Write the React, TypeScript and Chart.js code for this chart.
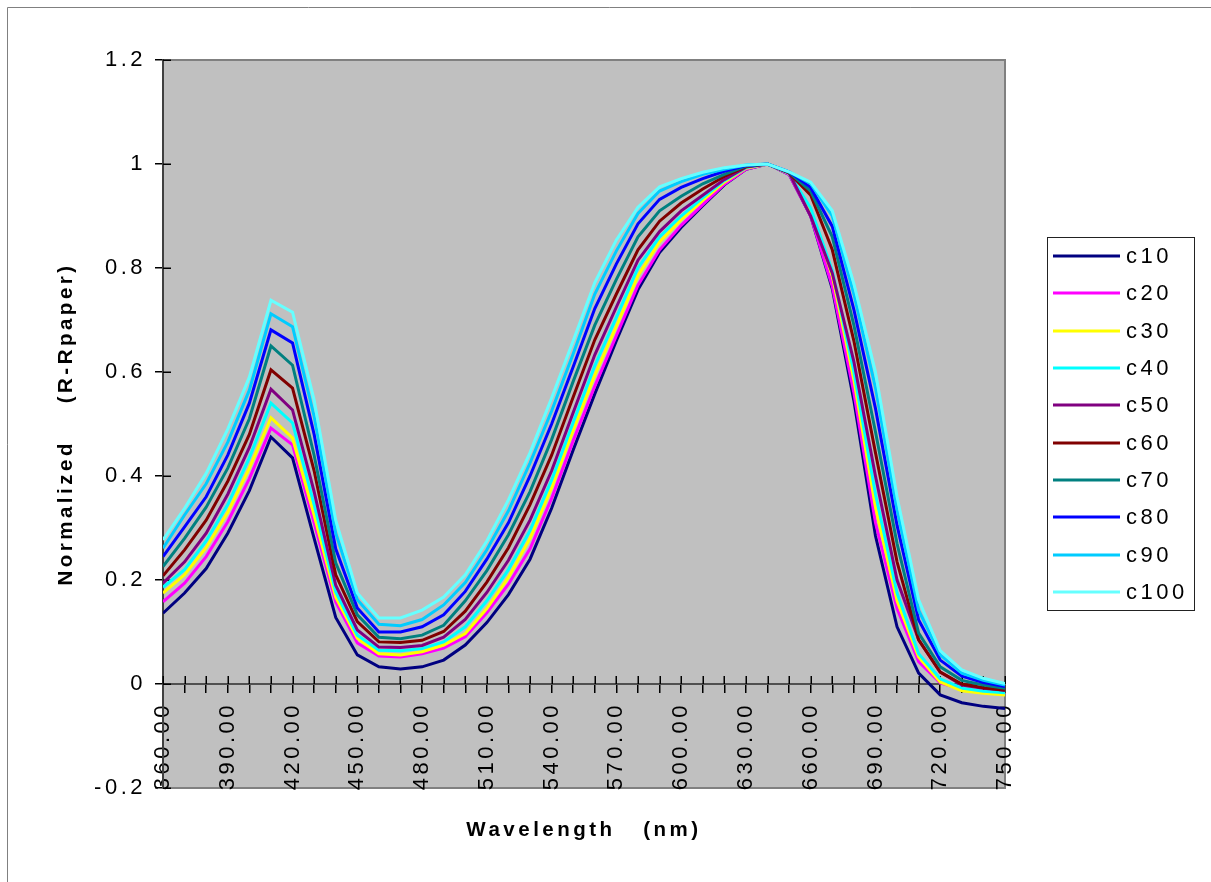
import React, { useEffect, useRef } from 'react';
import { Chart, registerables } from 'chart.js';

Chart.register(...registerables);

const wavelengths = [360, 370, 380, 390, 400, 410, 420, 430, 440, 450, 460, 470, 480, 490, 500, 510, 520, 530, 540, 550, 560, 570, 580, 590, 600, 610, 620, 630, 640, 650, 660, 670, 680, 690, 700, 710, 720, 730, 740, 750];
const xLabelValues = [360, 390, 420, 450, 480, 510, 540, 570, 600, 630, 660, 690, 720, 750];

const seriesNames = ['c10', 'c20', 'c30', 'c40', 'c50', 'c60', 'c70', 'c80', 'c90', 'c100'];
const seriesColors = ['#000080', '#FF00FF', '#FFFF00', '#00FFFF', '#800080', '#800000', '#008080', '#0000FF', '#00CCFF', '#66FFFF'];

const c10 = [0.136, 0.175, 0.222, 0.29, 0.372, 0.475, 0.435, 0.28, 0.128, 0.056, 0.033, 0.029, 0.033, 0.046, 0.075, 0.118, 0.172, 0.24, 0.338, 0.45, 0.558, 0.66, 0.758, 0.83, 0.878, 0.92, 0.96, 0.99, 1.0, 0.98, 0.9, 0.76, 0.545, 0.285, 0.11, 0.021, -0.021, -0.036, -0.043, -0.047];
const c20 = [0.158, 0.194, 0.245, 0.312, 0.395, 0.492, 0.46, 0.31, 0.158, 0.079, 0.054, 0.052, 0.058, 0.069, 0.091, 0.137, 0.192, 0.26, 0.357, 0.468, 0.573, 0.67, 0.767, 0.835, 0.882, 0.922, 0.961, 0.99, 1.0, 0.98, 0.9, 0.765, 0.56, 0.31, 0.145, 0.043, 0.002, -0.01, -0.015, -0.018];
const c30 = [0.175, 0.21, 0.262, 0.33, 0.415, 0.512, 0.473, 0.325, 0.167, 0.088, 0.058, 0.056, 0.062, 0.075, 0.097, 0.145, 0.205, 0.28, 0.377, 0.488, 0.594, 0.688, 0.785, 0.85, 0.893, 0.93, 0.965, 0.992, 1.0, 0.982, 0.91, 0.785, 0.585, 0.34, 0.16, 0.052, 0.004, -0.013, -0.018, -0.021];
const c40 = [0.186, 0.22, 0.275, 0.345, 0.435, 0.54, 0.502, 0.345, 0.177, 0.094, 0.065, 0.064, 0.068, 0.081, 0.11, 0.16, 0.22, 0.295, 0.392, 0.503, 0.612, 0.705, 0.8, 0.86, 0.9, 0.935, 0.968, 0.993, 1.0, 0.982, 0.915, 0.795, 0.6, 0.365, 0.175, 0.058, 0.01, -0.008, -0.014, -0.017];
const c50 = [0.194, 0.235, 0.29, 0.365, 0.455, 0.567, 0.527, 0.37, 0.19, 0.104, 0.071, 0.07, 0.074, 0.09, 0.124, 0.176, 0.238, 0.315, 0.41, 0.522, 0.633, 0.725, 0.815, 0.87, 0.91, 0.94, 0.97, 0.994, 1.0, 0.983, 0.9, 0.79, 0.62, 0.4, 0.2, 0.085, 0.023, -0.002, -0.008, -0.012];
const c60 = [0.208, 0.258, 0.315, 0.39, 0.48, 0.604, 0.569, 0.41, 0.21, 0.12, 0.081, 0.08, 0.084, 0.101, 0.14, 0.196, 0.262, 0.345, 0.44, 0.552, 0.662, 0.75, 0.835, 0.89, 0.925, 0.952, 0.976, 0.995, 1.0, 0.983, 0.94, 0.835, 0.66, 0.445, 0.235, 0.085, 0.023, 0.0, -0.007, -0.012];
const c70 = [0.226, 0.28, 0.34, 0.415, 0.51, 0.65, 0.613, 0.44, 0.233, 0.133, 0.09, 0.087, 0.094, 0.113, 0.16, 0.218, 0.287, 0.37, 0.47, 0.582, 0.69, 0.778, 0.86, 0.91, 0.938, 0.962, 0.98, 0.996, 1.0, 0.984, 0.948, 0.86, 0.69, 0.485, 0.27, 0.098, 0.033, 0.007, -0.002, -0.008];
const c80 = [0.245, 0.302, 0.36, 0.44, 0.54, 0.681, 0.656, 0.48, 0.26, 0.146, 0.1, 0.1, 0.11, 0.133, 0.178, 0.24, 0.31, 0.4, 0.5, 0.61, 0.722, 0.808, 0.885, 0.932, 0.955, 0.972, 0.986, 0.997, 1.0, 0.985, 0.955, 0.88, 0.72, 0.53, 0.305, 0.123, 0.046, 0.015, 0.003, -0.005];
const c90 = [0.261, 0.325, 0.385, 0.465, 0.565, 0.712, 0.687, 0.515, 0.29, 0.162, 0.115, 0.112, 0.124, 0.152, 0.195, 0.258, 0.333, 0.425, 0.525, 0.635, 0.75, 0.833, 0.905, 0.948, 0.966, 0.98, 0.99, 0.998, 1.0, 0.985, 0.962, 0.9, 0.75, 0.57, 0.335, 0.142, 0.056, 0.021, 0.007, -0.002];
const c100 = [0.277, 0.338, 0.405, 0.49, 0.59, 0.738, 0.715, 0.546, 0.315, 0.175, 0.127, 0.127, 0.142, 0.167, 0.21, 0.275, 0.354, 0.445, 0.55, 0.66, 0.772, 0.854, 0.917, 0.956, 0.972, 0.984, 0.993, 0.998, 1.0, 0.985, 0.965, 0.91, 0.77, 0.6, 0.36, 0.162, 0.064, 0.027, 0.011, 0.001];

const seriesValues = [c10, c20, c30, c40, c50, c60, c70, c80, c90, c100];

const xTitle = 'Wavelength   (nm)';
const yTitle = 'Normalized    (R-Rpaper)';

const FONT = '"Liberation Sans", Arial, Helvetica, sans-serif';
const SPACING = '3.5px';
const W = 1211;
const H = 882;

const spacingPlugin = {
  id: 'letterSpacing',
  beforeUpdate(chart: any) {
    chart.ctx.letterSpacing = SPACING;
  },
  beforeDraw(chart: any) {
    chart.ctx.letterSpacing = SPACING;
  },
};

const plotAreaPlugin = {
  id: 'plotArea',
  beforeDraw(chart: any) {
    const { ctx, chartArea } = chart;
    const { left, top, right, bottom } = chartArea;
    ctx.save();
    ctx.fillStyle = '#FFFFFF';
    ctx.fillRect(0, 0, chart.width, chart.height);
    // outer chart border (extends past the visible right/bottom edges)
    ctx.strokeStyle = '#808080';
    ctx.lineWidth = 1;
    ctx.beginPath();
    ctx.moveTo(7.5, chart.height);
    ctx.lineTo(7.5, 7.5);
    ctx.lineTo(chart.width, 7.5);
    ctx.stroke();
    ctx.fillStyle = '#C0C0C0';
    ctx.fillRect(left, top, right - left, bottom - top);
    ctx.strokeStyle = '#808080';
    ctx.lineWidth = 2;
    ctx.strokeRect(left, top, right - left, bottom - top);
    ctx.restore();
  },
  beforeDatasetsDraw(chart: any) {
    const { ctx, chartArea, scales } = chart;
    const xs = scales.x;
    const ys = scales.y;
    const y0 = Math.round(ys.getPixelForValue(0));
    ctx.save();
    ctx.strokeStyle = '#000';
    ctx.lineWidth = 1.5;
    ctx.beginPath();
    xs.ticks.forEach((t: any) => {
      const px = Math.round(xs.getPixelForValue(t.value)) + 0.25;
      ctx.moveTo(px, y0 - 8);
      ctx.lineTo(px, y0);
    });
    ys.ticks.forEach((t: any) => {
      const py = Math.round(ys.getPixelForValue(t.value)) + 0.25;
      ctx.moveTo(chartArea.left, py);
      ctx.lineTo(chartArea.left + 8, py);
    });
    ctx.stroke();
    ctx.restore();
  },
};

const boxLegendPlugin = {
  id: 'boxLegend',
  afterDraw(chart: any) {
    const { ctx } = chart;
    ctx.save();
    ctx.strokeStyle = '#222';
    ctx.lineWidth = 1;
    ctx.strokeRect(1047.5, 237.5, 147, 373);
    chart.data.datasets.forEach((ds: any, i: number) => {
      const y = Math.round(256 + i * 37.33);
      ctx.strokeStyle = ds.borderColor;
      ctx.lineWidth = 3;
      ctx.beginPath();
      ctx.moveTo(1053, y);
      ctx.lineTo(1120, y);
      ctx.stroke();
      ctx.fillStyle = '#000';
      ctx.font = `22px ${FONT}`;
      ctx.textAlign = 'left';
      ctx.textBaseline = 'middle';
      ctx.fillText(ds.label, 1126, y + 1);
    });
    ctx.restore();
  },
};

export default function App() {
  const canvasRef = useRef<HTMLCanvasElement>(null);

  useEffect(() => {
    if (!canvasRef.current) return;
    const datasets = seriesNames.map((name, i) => ({
      label: name,
      data: wavelengths.map((w, j) => ({ x: w, y: seriesValues[i][j] })),
      borderColor: seriesColors[i],
      backgroundColor: seriesColors[i],
      borderWidth: 3,
      pointRadius: 0,
      tension: 0,
      fill: false,
      order: seriesNames.length - 1 - i,
    }));

    const chart = new Chart(canvasRef.current, {
      type: 'line',
      data: { datasets },
      plugins: [spacingPlugin, plotAreaPlugin, boxLegendPlugin],
      options: {
        animation: false,
        responsive: false,
        devicePixelRatio: 1,
        layout: { padding: { left: 0, top: 60, right: 206, bottom: 94 } },
        plugins: {
          legend: { display: false },
          tooltip: { enabled: false },
        },
        scales: {
          x: {
            type: 'linear',
            position: { y: 0 } as any,
            min: 360,
            max: 750,
            afterFit: (s: any) => {
              s.height = 159;
            },
            ticks: {
              stepSize: 10,
              autoSkip: false,
              minRotation: 90,
              maxRotation: 90,
              padding: 10,
              color: '#000',
              font: { family: FONT, size: 22 },
              callback: (v: any) => {
                const n = Math.round(Number(v));
                return xLabelValues.includes(n) ? n.toFixed(2) : '';
              },
            },
            grid: {
              drawOnChartArea: false,
              drawTicks: true,
              tickLength: 8,
              color: '#000',
              lineWidth: 1.5,
            },
            border: { display: true, color: '#505050', width: 2 },
            title: {
              display: true,
              text: xTitle,
              color: '#000',
              font: { family: FONT, size: 20.5, weight: 'bold' },
              padding: { top: 0, bottom: 0 },
            },
          },
          y: {
            type: 'linear',
            position: 'left',
            min: -0.2,
            max: 1.2,
            afterFit: (s: any) => {
              s.width = 163;
            },
            ticks: {
              stepSize: 0.2,
              padding: 9,
              color: '#000',
              font: { family: FONT, size: 22 },
              callback: (v: any) => String(Number(Number(v).toFixed(1))),
            },
            grid: {
              drawOnChartArea: false,
              drawTicks: true,
              tickLength: 8,
              color: '#000',
              lineWidth: 1.5,
            },
            border: { display: true, color: '#404040', width: 2 },
            title: {
              display: true,
              text: yTitle,
              color: '#000',
              font: { family: FONT, size: 20.5, weight: 'bold' },
              padding: { top: 54, bottom: 0 },
            },
          },
        },
      } as any,
    });

    return () => {
      chart.destroy();
    };
  }, []);

  return (
    <div style={{ position: 'absolute', left: 0, top: 0, width: W, height: H, overflow: 'hidden' }}>
      <canvas ref={canvasRef} width={W} height={H} style={{ display: 'block' }} />
    </div>
  );
}
